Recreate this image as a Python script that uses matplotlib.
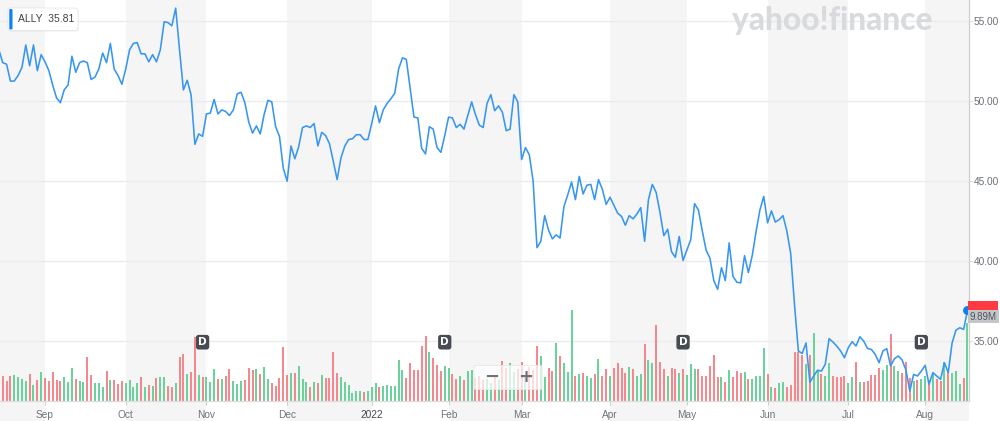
import matplotlib
matplotlib.use("Agg")
import matplotlib.pyplot as plt
import numpy as np
import pandas as pd
from matplotlib.patches import FancyBboxPatch, Rectangle
from matplotlib.transforms import IdentityTransform, blended_transform_factory

# ---------------- data ----------------
ticker = "ALLY"
legend_value = "35.81"
start_date = "2021-08-16"
end_date = "2022-08-16"
market_holidays = ["2021-09-06", "2021-11-25", "2021-12-24", "2022-01-17",
                   "2022-02-21", "2022-04-15", "2022-05-30", "2022-06-20",
                   "2022-07-04"]
dividend_dates = ["2021-10-29", "2022-01-31", "2022-04-29", "2022-07-29"]

close_prices = [
    53.2, 52.4, 52.3, 51.25, 51.25, 51.6, 52.1, 53.5, 52.2, 53.5,
    51.9, 52.9, 52.45, 51.9, 51.0, 50.2, 49.9, 50.7, 51.0, 52.8,
    51.8, 52.4, 52.5, 52.4, 51.35, 51.5, 52.0, 53.0, 52.4, 53.6,
    52.0, 51.6, 51.05, 52.0, 53.2, 53.6, 53.65, 52.95, 52.95, 52.45,
    52.9, 52.45, 53.2, 54.95, 54.9, 54.7, 55.8, 53.2, 50.7, 51.3,
    50.4, 47.3, 47.95, 47.8, 49.2, 49.25, 50.1, 49.2, 49.45, 49.35,
    49.1, 49.45, 50.45, 50.55, 49.9, 48.7, 48.0, 48.45, 47.95, 49.15,
    50.05, 49.95, 48.4, 47.8, 45.8, 45.0, 47.2, 46.4, 47.15, 48.35,
    48.45, 48.35, 48.6, 47.2, 48.05, 47.85, 47.35, 46.25, 45.1, 46.45,
    47.2, 47.6, 47.65, 47.9, 47.9, 47.6, 47.6, 48.6, 49.7, 48.65,
    49.45, 49.85, 50.15, 50.5, 52.0, 52.7, 52.6, 50.8, 49.0, 48.95,
    47.05, 46.7, 48.4, 48.25, 47.1, 46.8, 47.85, 49.0, 48.95, 48.35,
    48.55, 48.25, 49.1, 49.95, 49.15, 48.5, 48.35, 49.85, 50.4, 49.4,
    49.7, 49.3, 48.15, 48.25, 50.4, 49.95, 46.35, 47.1, 46.65, 45.0,
    40.85, 41.25, 42.85, 41.95, 41.4, 41.65, 41.45, 43.4, 44.15, 44.95,
    43.85, 45.3, 44.2, 44.75, 44.8, 43.85, 45.1, 44.5, 43.55, 44.0,
    43.5, 43.0, 42.8, 42.25, 42.85, 42.65, 42.95, 43.35, 41.25, 43.85,
    44.8, 44.3, 43.05, 41.6, 42.0, 40.6, 40.25, 41.55, 40.05, 40.7,
    41.35, 43.6, 43.2, 41.9, 40.7, 40.2, 38.8, 38.25, 39.6, 38.8,
    41.15, 39.05, 38.7, 38.65, 40.35, 39.3, 40.35, 41.85, 43.2, 44.05,
    42.4, 43.15, 42.45, 42.6, 42.85, 41.9, 40.5, 37.3, 34.4, 34.25,
    34.9, 32.45, 32.84, 33.2, 33.15, 33.57, 35.17, 34.96, 34.71, 34.4,
    33.98, 34.61, 34.98, 34.71, 35.29, 35.02, 34.56, 34.5, 34.19, 33.67,
    34.4, 34.55, 33.46, 33.92, 34.09, 33.84, 33.21, 31.9, 32.94, 32.84,
    33.15, 33.51, 32.32, 33.05, 32.84, 32.63, 33.67, 33.05, 34.9, 35.7,
    35.85, 35.75, 36.93,
]

volume_millions = [
    3.0, 3.17, 2.58, 3.21, 3.30, 3.00, 2.79, 2.58, 3.47, 2.03,
    2.66, 3.68, 2.92, 2.58, 3.68, 2.66, 2.54, 3.00, 2.37, 4.23,
    2.79, 2.58, 2.37, 5.54, 3.25, 2.28, 2.28, 1.82, 3.80, 2.66,
    2.66, 2.16, 2.49, 2.28, 2.66, 1.82, 2.24, 3.00, 1.82, 2.03,
    1.94, 2.87, 3.09, 3.00, 1.94, 1.82, 2.24, 5.62, 5.96, 3.38,
    3.64, 8.07, 3.30, 3.09, 3.00, 2.45, 4.02, 2.75, 2.75, 3.21,
    4.02, 2.58, 2.16, 2.58, 2.66, 4.14, 3.93, 4.02, 3.38, 4.35,
    2.75, 2.32, 1.94, 2.92, 6.81, 3.25, 3.51, 3.59, 4.44, 2.75,
    2.45, 1.82, 2.37, 2.24, 3.30, 2.96, 2.92, 6.17, 3.51, 3.00,
    2.45, 2.03, 0.97, 1.27, 1.27, 1.18, 1.27, 1.73, 2.32, 1.82,
    1.90, 2.03, 1.94, 1.94, 5.20, 3.93, 2.87, 4.78, 3.93, 3.93,
    7.02, 8.28, 6.17, 5.41, 4.57, 3.80, 4.44, 4.23, 3.38, 2.79,
    3.21, 2.66, 3.85, 3.93, 2.87, 3.17, 2.66, 2.79, 2.24, 3.30,
    2.66, 5.07, 4.14, 4.86, 3.72, 4.02, 4.95, 2.87, 4.35, 3.93,
    7.02, 5.71, 3.09, 4.18, 3.80, 7.31, 5.71, 4.78, 3.72, 11.54,
    3.17, 3.42, 3.55, 3.17, 2.92, 3.47, 5.33, 3.21, 4.06, 3.21,
    4.18, 4.78, 4.18, 3.59, 4.27, 4.06, 3.17, 3.42, 7.27, 5.20,
    4.86, 9.64, 4.99, 4.10, 3.21, 4.20, 4.10, 3.59, 4.06, 3.34,
    4.67, 4.06, 4.02, 3.17, 3.17, 4.44, 5.83, 3.09, 3.00, 2.37,
    3.93, 3.09, 3.80, 3.59, 3.64, 2.79, 2.79, 3.17, 3.17, 6.68,
    3.38, 1.82, 1.61, 2.24, 2.37, 1.82, 2.03, 6.26, 6.26, 5.83,
    4.65, 5.83, 8.60, 3.93, 3.42, 3.21, 4.86, 3.21, 3.00, 3.09,
    3.21, 2.32, 3.00, 4.99, 2.37, 2.45, 2.58, 3.30, 3.30, 4.14,
    3.93, 4.57, 8.50, 4.48, 3.80, 3.51, 4.90, 2.96, 2.58, 2.66,
    2.75, 3.17, 2.66, 3.42, 2.79, 2.54, 4.90, 3.80, 3.51, 3.85,
    2.11, 2.87, 9.89,
]

price_ticks = [35, 40, 45, 50, 55]

# ---------------- derived ----------------
dates = pd.bdate_range(start_date, end_date, freq="C", holidays=market_holidays)
n = len(close_prices)
assert len(dates) == n == len(volume_millions)
idx = np.arange(n)

month_pos = [i for i in range(1, n) if dates[i].month != dates[i - 1].month]
month_lab = [str(dates[i].year) if dates[i].month == 1 else dates[i].strftime("%b")
             for i in month_pos]
div_pos = [dates.get_loc(pd.Timestamp(d)) for d in dividend_dates]

GREEN = "#6ad29b"
RED = "#f6878c"
bar_colors = [RED] + [GREEN if close_prices[i] >= close_prices[i - 1] else RED
                      for i in range(1, n)]

# ---------------- figure ----------------
W, H = 1000, 421
fig = plt.figure(figsize=(W / 100, H / 100), dpi=100)
fig.patch.set_facecolor("white")
FONT = "Liberation Sans"

plot_right = 969
plot_bottom = 401
xlim = (0.29, n - 0.6)
ylim = (31.28, 56.31)
rect = [0, 1 - plot_bottom / H, plot_right / W, plot_bottom / H]

# alternating month bands (full height)
bg = fig.add_axes([0, 0, plot_right / W, 1])
bg.set_zorder(0)
bg.set_xlim(xlim)
bg.set_ylim(0, 1)
bg.axis("off")
edges = [xlim[0]] + month_pos + [xlim[1]]
for k in range(len(edges) - 1):
    if k % 2 == 0:
        bg.axvspan(edges[k], edges[k + 1], color="#f5f5f5", lw=0)

# volume axes
ax_v = fig.add_axes(rect)
ax_v.set_zorder(1)
ax_v.patch.set_alpha(0)
ax_v.set_xlim(xlim)
ax_v.set_ylim(0, volume_millions[-1] * plot_bottom / 78.0)
ax_v.axis("off")

# price axes
ax = fig.add_axes(rect)
ax.set_zorder(2)
ax.patch.set_alpha(0)
ax.set_xlim(xlim)
ax.set_ylim(ylim)

# gridlines beneath volume bars
gtrans = blended_transform_factory(ax_v.transAxes, ax.transData)
for p in price_ticks:
    ax_v.plot([0, 1], [p, p], transform=gtrans, color="#ebebeb", lw=1.0, zorder=0,
              clip_on=False)

ax_v.bar(idx, volume_millions, width=0.52, color=bar_colors, lw=0, zorder=2)

ax.plot(idx, close_prices, color="#3796f2", lw=1.15, zorder=3,
        solid_joinstyle="round")
ax.plot(idx[-1], close_prices[-1], "o", ms=5.4, color="#0c80f0", zorder=6,
        clip_on=False)

for d in div_pos:
    ax.text(d, 34.95, "D", ha="center", va="center", color="white",
            fontsize=7.6, fontweight="bold", family="DejaVu Sans", zorder=7,
            bbox=dict(boxstyle="round,pad=0.22,rounding_size=0.25",
                      fc="#474c52", ec="none"))

# spines / ticks
for s in ["top", "left"]:
    ax.spines[s].set_visible(False)
ax.spines["right"].set_color("#cfcfcf")
ax.spines["right"].set_linewidth(0.9)
ax.spines["bottom"].set_color("#dddddd")
ax.spines["bottom"].set_linewidth(0.9)

ax.set_xticks(month_pos)
ax.set_xticklabels(month_lab)
ax.tick_params(axis="x", length=2.9, width=0.8, color="#cfcfcf",
               labelsize=7.3, labelcolor="#707479", pad=3.5)
for lab in ax.get_xticklabels():
    lab.set_family(FONT)
    if lab.get_text().isdigit():
        lab.set_color("#45484d")

ax.yaxis.tick_right()
ax.set_yticks(price_ticks)
ax.set_yticklabels([f"{p:.2f}" for p in price_ticks])
ax.tick_params(axis="y", length=2.6, width=0.9, color="#e2e2e2",
               labelsize=7.3, labelcolor="#6c7075", pad=1.0)
for lab in ax.get_yticklabels():
    lab.set_family(FONT)

# ---------------- right-side labels (display pixel coords) ----------------
ident = IdentityTransform()
axis_x = ax.transAxes.transform((1, 0))[0]
_, py = ax.transData.transform((idx[-1], close_prices[-1]))
_, vy = ax_v.transData.transform((idx[-1], volume_millions[-1]))
fig.add_artist(Rectangle((axis_x - 1, py - 9), 30, 18, transform=ident,
                         fc="#ff3b41", ec="none", zorder=8))
fig.add_artist(Rectangle((axis_x - 1, vy), 30.5, 12.8, transform=ident,
                         fc="#c4c6ca", ec="none", zorder=9))
fig.text(axis_x + 14.3, vy + 6.4, f"{volume_millions[-1]:.2f}M", transform=ident,
         ha="center", va="center", fontsize=7.0, color="#4f545a", family=FONT,
         zorder=10)

# ---------------- legend chip ----------------
fig.add_artist(FancyBboxPatch((8.5, H - 31.5), 70, 22.5, transform=ident,
                              boxstyle="round,pad=0,rounding_size=3",
                              fc=(0, 0, 0, 0.07), ec="none", zorder=10))
fig.add_artist(FancyBboxPatch((8, H - 30.5), 70, 22.5, transform=ident,
                              boxstyle="round,pad=0,rounding_size=3",
                              fc="white", ec="#e3e3e3", lw=0.5, zorder=11))
fig.add_artist(FancyBboxPatch((9.3, H - 29.5), 3.2, 20.5, transform=ident,
                              boxstyle="round,pad=0,rounding_size=1.2",
                              fc="#0f80f5", ec="none", zorder=12))
fig.text(18.3, H - 19.3, f"{ticker}  {legend_value}", transform=ident,
         ha="left", va="center", fontsize=7.5, color="#3f4347", family=FONT,
         zorder=12)

# ---------------- watermark ----------------
logo = fig.text(732, H - 30, "yahoo!finance", transform=ident, ha="left",
                va="baseline", fontsize=17, fontweight="black",
                family=["Lato", "DejaVu Sans"], color="#d8dadd", zorder=1)
fig.canvas.draw()
bb = logo.get_window_extent()
logo.set_fontsize(17 * 201.0 / bb.width)

# ---------------- zoom buttons ----------------
fig.add_artist(FancyBboxPatch((474, H - 389.5), 68, 24, transform=ident,
                              boxstyle="round,pad=0,rounding_size=2",
                              fc=(1, 1, 1, 0.72), ec="#e8e8e8", lw=0.6, zorder=11))
fig.text(491.5, H - 377, "\u2212", transform=ident, ha="center", va="center",
         fontsize=13, fontweight="bold", color="#6f7378", family="DejaVu Sans",
         zorder=12)
fig.text(526, H - 377, "+", transform=ident, ha="center", va="center",
         fontsize=13, fontweight="bold", color="#6f7378", family="DejaVu Sans",
         zorder=12)

fig.savefig("out.png", dpi=100)
